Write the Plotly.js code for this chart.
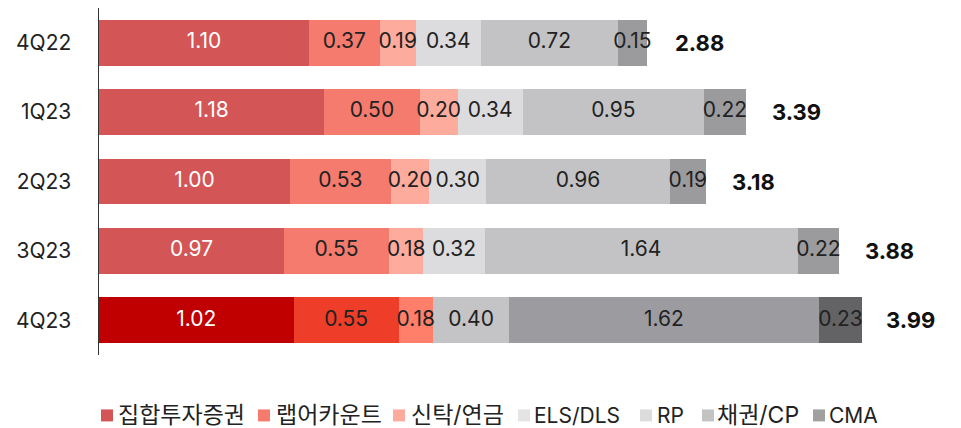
<!DOCTYPE html>
<html>
<head>
<meta charset="utf-8">
<script src="https://cdn.plot.ly/plotly-3.0.1.min.js"></script>
<style>html,body{margin:0;padding:0;background:#fff;}#chart{width:961px;height:428px;}</style>
</head>
<body>
<div id="chart"></div>
<script>
const categories = ['4Q22', '1Q23', '2Q23', '3Q23', '4Q23'];
const seriesNames = ['집합투자증권', '랩어카운트', '신탁/연금', 'ELS/DLS', 'RP', '채권/CP', 'CMA'];
const fundValues  = [1.10, 1.18, 1.00, 0.97, 1.02];
const wrapValues  = [0.37, 0.50, 0.53, 0.55, 0.55];
const trustValues = [0.19, 0.20, 0.20, 0.18, 0.18];
const elsValues   = [0.00, 0.00, 0.00, 0.00, 0.00];
const rpValues    = [0.34, 0.34, 0.30, 0.32, 0.40];
const bondValues  = [0.72, 0.95, 0.96, 1.64, 1.62];
const cmaValues   = [0.15, 0.22, 0.19, 0.22, 0.23];
const totals      = [2.88, 3.39, 3.18, 3.88, 3.99];

const seriesValues = [fundValues, wrapValues, trustValues, elsValues, rpValues, bondValues, cmaValues];
const baseColors      = ['#D45556', '#F47B6D', '#FDAB9D', '#E6E6E7', '#DCDCDE', '#C3C3C5', '#9B9B9D'];
const highlightColors = ['#C00000', '#EE3D28', '#FF7F6A', '#E6E6E7', '#C4C4C6', '#9C9CA0', '#636366'];
const legendColors    = ['#D45556', '#F47B6D', '#FDAB9D', '#E4E4E4', '#DCDCDC', '#C3C3C3', '#A0A0A0'];
const labelColors     = ['#FFFFFF', '#222222', '#222222', '#222222', '#222222', '#222222', '#222222'];
const highlightIndex = 4;

const FONT = 'Inter, "Noto Sans CJK KR", "Noto Sans", sans-serif';

// plot-area geometry (pixels)
const W = 961, H = 428, ML = 99, MR = 7, MT = 8, MB = 72.5;
const PW = W - ML - MR, PH = H - MT - MB;
const px2x = p => (p - ML) / PW;
const px2y = p => (H - MB - p) / PH;

const traces = [];
seriesValues.forEach((vals, s) => {
  const colors = categories.map((c, i) => i === highlightIndex ? highlightColors[s] : baseColors[s]);
  traces.push({
    type: 'bar', orientation: 'h',
    name: seriesNames[s],
    y: categories, x: vals,
    marker: {color: colors, line: {width: 0}},
    textposition: 'none',
    hoverinfo: 'x+name'
  });
});

// segment labels
const lx = [], ly = [], lt = [], lc = [];
const cum = categories.map(() => 0);
seriesValues.forEach((vals, s) => {
  vals.forEach((v, i) => {
    if (v > 0) {
      lx.push(cum[i] + v / 2);
      ly.push(categories[i]);
      lt.push(v.toFixed(2));
      lc.push(labelColors[s]);
    }
    cum[i] += v;
  });
});
traces.push({
  type: 'scatter', mode: 'text', x: lx, y: ly, text: lt,
  textposition: 'middle center',
  textfont: {family: FONT, size: 21, color: lc},
  showlegend: false, hoverinfo: 'skip', cliponaxis: false
});

const annotations = categories.map((c, i) => ({
  x: totals[i], y: c, xref: 'x', yref: 'y',
  text: '<b>' + totals[i].toFixed(2) + '</b>',
  showarrow: false, xanchor: 'left', xshift: 24,
  font: {family: FONT, size: 22, color: '#111'}
}));

// legend (drawn as shapes + annotations to match the reference spacing)
const legendSquareLeft = [101, 258, 393, 518, 640, 702, 813];
const legendTextLeft   = [118, 276, 411, 534, 657, 717, 829];
const legendY = 416, sq = 12;
const shapes = [];
seriesNames.forEach((name, s) => {
  shapes.push({
    type: 'rect', xref: 'paper', yref: 'paper',
    x0: px2x(legendSquareLeft[s]), x1: px2x(legendSquareLeft[s] + sq),
    y0: px2y(legendY + sq / 2), y1: px2y(legendY - sq / 2),
    fillcolor: legendColors[s], line: {width: 0}
  });
  const hasHangul = /[\uAC00-\uD7A3]/.test(name);
  annotations.push({
    x: px2x(legendTextLeft[s] - 1), y: px2y(legendY), xref: 'paper', yref: 'paper',
    text: name, showarrow: false, xanchor: 'left', yanchor: 'middle',
    borderpad: 0,
    font: {family: FONT, size: hasHangul ? 23 : 21, color: '#222'}
  });
});

const layout = {
  width: W, height: H,
  margin: {l: ML, r: MR, t: MT, b: MB, autoexpand: false},
  paper_bgcolor: '#fff', plot_bgcolor: '#fff',
  barmode: 'stack', bargap: 0.34,
  font: {family: FONT, size: 21, color: '#222'},
  showlegend: false,
  xaxis: {range: [0, 4.48], visible: false, fixedrange: true},
  yaxis: {
    type: 'category', autorange: 'reversed',
    showline: true, linecolor: '#333', linewidth: 1.5,
    showgrid: false, zeroline: false, ticks: '',
    ticklabelstandoff: 22,
    tickfont: {family: FONT, size: 21, color: '#222'},
    fixedrange: true
  },
  shapes: shapes,
  annotations: annotations
};

Plotly.newPlot('chart', traces, layout, {displayModeBar: false, staticPlot: true});
</script>
</body>
</html>
